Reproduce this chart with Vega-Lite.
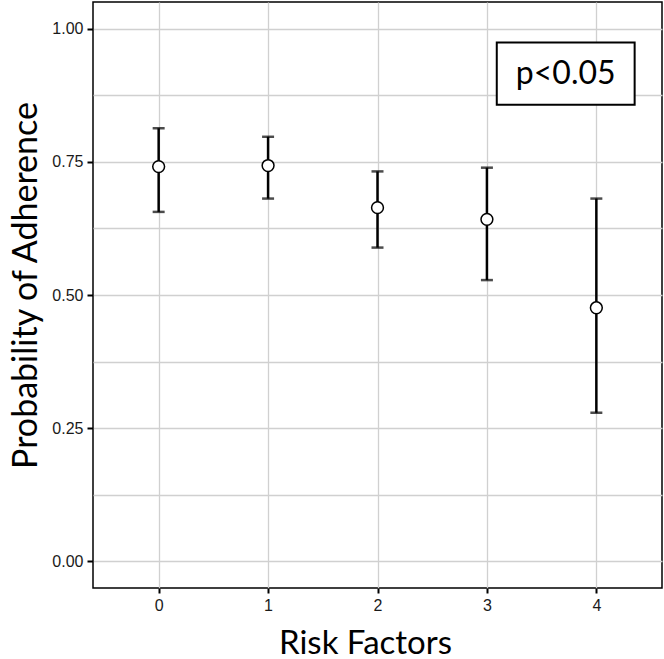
{
  "$schema": "https://vega.github.io/schema/vega-lite/v6.json",
  "width": 569,
  "height": 586,
  "autosize": {"type": "none"},
  "padding": {"left": 93, "top": 2, "right": 2, "bottom": 71},
  "background": "white",
  "config": {
    "view": {"stroke": "black", "strokeWidth": 1.5},
    "axis": {
      "domain": false,
      "gridColor": "#d0d0d0",
      "gridWidth": 1.3,
      "tickColor": "black",
      "tickWidth": 2,
      "labelFont": "Liberation Sans",
      "labelFontSize": 16,
      "labelColor": "#1a1a1a",
      "titleFont": "Lato",
      "titleFontWeight": "normal",
      "titleColor": "black"
    }
  },
  "datasets": {
    "est": [
      {"risk": 0, "p": 0.741, "lo": 0.656, "hi": 0.813},
      {"risk": 1, "p": 0.743, "lo": 0.681, "hi": 0.797},
      {"risk": 2, "p": 0.664, "lo": 0.589, "hi": 0.732},
      {"risk": 3, "p": 0.642, "lo": 0.528, "hi": 0.739},
      {"risk": 4, "p": 0.476, "lo": 0.279, "hi": 0.681}
    ],
    "note": [
      {"x1": 3.09, "x2": 4.35, "y1": 0.974, "y2": 0.857, "xc": 3.72, "yc": 0.9155, "label": "p<0.05"}
    ]
  },
  "layer": [
    {
      "data": {"name": "est"},
      "mark": {"type": "errorbar", "ticks": {"size": 12, "thickness": 2.5}, "thickness": 2.5, "color": "black"},
      "encoding": {
        "x": {
          "field": "risk", "type": "quantitative",
          "scale": {"domain": [-0.6, 4.6], "nice": false, "zero": false},
          "axis": {"values": [0, 1, 2, 3, 4], "format": "d", "title": "Risk Factors", "titleFontSize": 33, "tickSize": 5, "labelPadding": 4, "titlePadding": 14, "titleX": 272}
        },
        "y": {
          "field": "lo", "type": "quantitative",
          "scale": {"domain": [-0.05, 1.05], "nice": false, "zero": false},
          "axis": {
            "values": [0, 0.125, 0.25, 0.375, 0.5, 0.625, 0.75, 0.875, 1],
            "format": ".2f",
            "labelExpr": "(datum.value*8) % 2 == 0 ? datum.label : ''",
            "tickColor": {"condition": {"test": "(datum.value*8) % 2 != 0", "value": "transparent"}, "value": "black"},
            "tickSize": 6,
            "labelPadding": 4,
            "title": "Probability of Adherence",
            "titleFontSize": 34,
            "titlePadding": 8,
            "titleY": 283
          }
        },
        "y2": {"field": "hi"}
      }
    },
    {
      "data": {"name": "est"},
      "mark": {"type": "point", "shape": "circle", "filled": true, "fill": "white", "stroke": "black", "strokeWidth": 1.5, "size": 140, "opacity": 1},
      "encoding": {
        "x": {"field": "risk", "type": "quantitative"},
        "y": {"field": "p", "type": "quantitative"}
      }
    },
    {
      "data": {"name": "note"},
      "mark": {"type": "rect", "fill": "white", "stroke": "black", "strokeWidth": 2},
      "encoding": {
        "x": {"field": "x1", "type": "quantitative"},
        "x2": {"field": "x2"},
        "y": {"field": "y1", "type": "quantitative"},
        "y2": {"field": "y2"}
      }
    },
    {
      "data": {"name": "note"},
      "mark": {"type": "text", "font": "Lato", "fontSize": 32, "color": "black", "align": "center", "baseline": "middle"},
      "encoding": {
        "x": {"field": "xc", "type": "quantitative"},
        "y": {"field": "yc", "type": "quantitative"},
        "text": {"field": "label"}
      }
    }
  ]
}
